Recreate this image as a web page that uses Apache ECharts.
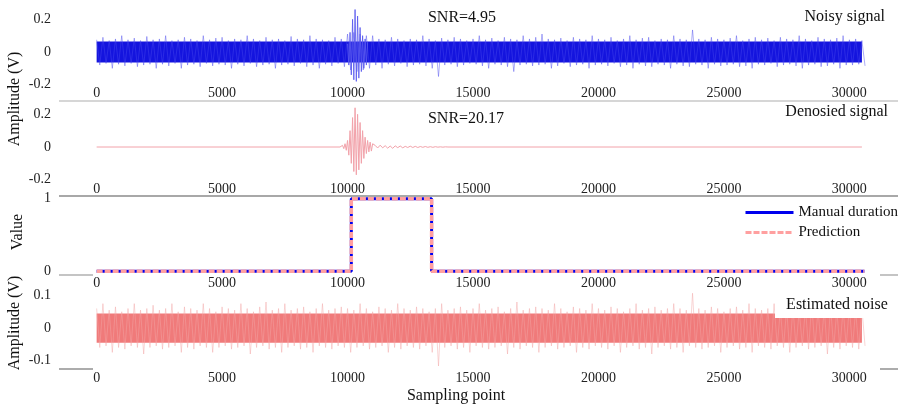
<!DOCTYPE html>
<html lang="en">
<head>
<meta charset="UTF-8"/>
<title>Noisy / denoised signal</title>
<script src="https://cdn.jsdelivr.net/npm/echarts@6/dist/echarts.min.js"></script>
<style>
  html, body { margin: 0; padding: 0; background: #fff; }
  #chart { width: 898px; height: 409px; }
</style>
</head>
<body>
<div id="chart"></div>
<script>
// ---- values ----
const xTicks = [0, 5000, 10000, 15000, 20000, 25000, 30000];
const envStep = 250; // envelope read every 250 samples

// noisy signal: upper / lower peaks per 250 samples
const noisyHi = [
  0.075,0.09,0.07,0.08,0.1,0.075,0.085,0.07,0.095,0.075,
  0.08,0.1,0.07,0.075,0.09,0.08,0.07,0.1,0.075,0.085,
  0.09,0.07,0.08,0.075,0.1,0.08,0.07,0.09,0.075,0.08,
  0.07,0.095,0.08,0.075,0.1,0.08,0.075,0.07,0.09,0.08,
  0.11,0.12,0.11,0.1,
  0.1,0.08,0.075,0.09,0.08,0.07,
  0.08,0.075,0.1,0.08,0.07,0.085,0.075,0.09,0.08,0.07,
  0.08,0.1,0.075,0.085,0.07,0.09,0.08,0.075,0.1,0.08,
  0.09,0.11,0.08,0.075,0.085,0.07,0.09,0.08,0.075,0.1,
  0.08,0.075,0.09,0.07,0.08,0.1,0.075,0.085,0.09,0.07,
  0.08,0.075,0.1,0.08,0.075,0.135,0.08,0.075,0.09,0.08,
  0.075,0.085,0.1,0.07,0.08,0.09,0.075,0.085,0.07,0.09,
  0.08,0.075,0.1,0.08,0.07,0.09,0.08,0.075,0.085,0.1,
  0.075,0.08,0.07
];
const noisyLo = [
  -0.08,-0.07,-0.1,-0.075,-0.085,-0.07,-0.09,-0.08,-0.075,-0.1,
  -0.075,-0.085,-0.07,-0.1,-0.08,-0.075,-0.09,-0.07,-0.085,-0.075,
  -0.08,-0.1,-0.075,-0.085,-0.07,-0.09,-0.08,-0.075,-0.1,-0.08,
  -0.075,-0.085,-0.07,-0.09,-0.08,-0.1,-0.075,-0.085,-0.07,-0.09,
  -0.11,-0.12,-0.11,-0.1,
  -0.08,-0.1,-0.075,-0.085,-0.07,-0.09,
  -0.08,-0.075,-0.085,-0.1,-0.15,-0.08,-0.075,-0.09,-0.08,-0.07,
  -0.075,-0.085,-0.1,-0.075,-0.08,-0.09,-0.12,-0.08,-0.075,-0.085,
  -0.08,-0.075,-0.1,-0.085,-0.07,-0.09,-0.08,-0.075,-0.1,-0.08,
  -0.075,-0.085,-0.07,-0.09,-0.08,-0.1,-0.075,-0.085,-0.09,-0.075,
  -0.08,-0.1,-0.075,-0.085,-0.09,-0.075,-0.08,-0.1,-0.075,-0.085,
  -0.08,-0.075,-0.09,-0.085,-0.1,-0.075,-0.08,-0.07,-0.09,-0.08,
  -0.075,-0.085,-0.1,-0.08,-0.075,-0.09,-0.085,-0.075,-0.1,-0.08,
  -0.08,-0.075,-0.085
];
// dense core of the noisy band
const noisyCoreX  = [0, 30500];
const noisyCoreHi = [0.064, 0.064];
const noisyCoreLo = [-0.064, -0.064];
// event burst in the noisy trace
const burstX = [10000,10050,10100,10150,10200,10250,10300,10350,10400,10450,10500,10550,10600,10650,10700,10750,10800];
const burstY = [0.05,-0.08,0.12,-0.14,0.2,-0.17,0.26,-0.18,0.22,-0.16,0.15,-0.12,0.1,-0.1,0.08,-0.08,0.06];

// denoised signal
const denoisedX = [
  0, 9700, 9800, 9850, 9900, 9950, 10000, 10050, 10100, 10150, 10200, 10250, 10300, 10350,
  10400, 10450, 10500, 10550, 10600, 10650, 10700, 10750, 10800, 10850, 10900, 10950, 11000,
  11100, 11200, 11300, 11400, 11500, 11600, 11700, 11800, 11900, 12000, 12100, 12200, 12300,
  12400, 12500, 12600, 12700, 12800, 12900, 13000, 13100, 13200, 13300, 13400, 13500, 13600,
  13700, 13800, 13900, 14000, 30500
];
const denoisedY = [
  0, 0, 0.01, -0.01, 0.02, -0.02, 0.04, -0.05, 0.1, -0.1, 0.18, -0.15, 0.24, -0.17,
  0.2, -0.14, 0.15, -0.1, 0.1, -0.07, 0.06, -0.04, 0.04, -0.03, 0.03, -0.025, 0.02,
  0.01, -0.006, 0.011, -0.005, 0.008, -0.007, 0.006, -0.008, 0.007, -0.004, 0.006, -0.005,
  0.004, -0.003, 0.005, -0.003, 0.004, -0.003, 0.003, -0.002, 0.003, -0.002, 0.002, -0.002,
  0.002, -0.001, 0.001, -0.001, 0.001, 0, 0
];

// duration (value 0/1)
const durationX   = [0, 10150, 10150, 13350, 13350, 30600];
const manualY     = [0, 0, 1, 1, 0, 0];
const predictionY = [0, 0, 1, 1, 0, 0];

// estimated noise: upper / lower peaks per 250 samples
const noiseHi = [
  0.06,0.075,0.055,0.065,0.05,0.06,0.075,0.055,0.06,0.07,
  0.055,0.06,0.075,0.05,0.065,0.06,0.055,0.075,0.06,0.05,
  0.065,0.06,0.055,0.075,0.06,0.05,0.065,0.08,0.055,0.06,
  0.075,0.055,0.06,0.065,0.05,0.06,0.075,0.055,0.06,0.065,
  0.06,0.055,0.075,0.06,0.05,0.065,0.06,0.055,0.075,0.06,
  0.055,0.065,0.06,0.05,0.06,0.075,0.055,0.06,0.065,0.055,
  0.06,0.075,0.055,0.06,0.065,0.05,0.06,0.08,0.055,0.06,
  0.065,0.06,0.055,0.075,0.06,0.05,0.065,0.06,0.055,0.075,
  0.06,0.055,0.065,0.06,0.05,0.06,0.075,0.055,0.06,0.065,
  0.055,0.06,0.075,0.06,0.055,0.107,0.06,0.055,0.065,0.06,
  0.05,0.06,0.065,0.055,0.075,0.06,0.055,0.06,0.075,0.055,
  0.06,0.065,0.055,0.06,0.075,0.055,0.06,0.065,0.055,0.06,
  0.065,0.055,0.06
];
const noiseLo = [
  -0.06,-0.055,-0.075,-0.06,-0.065,-0.055,-0.06,-0.08,-0.06,-0.055,
  -0.065,-0.06,-0.055,-0.075,-0.06,-0.065,-0.055,-0.06,-0.075,-0.06,
  -0.055,-0.065,-0.06,-0.055,-0.08,-0.06,-0.055,-0.065,-0.06,-0.075,
  -0.06,-0.055,-0.065,-0.06,-0.075,-0.055,-0.06,-0.065,-0.055,-0.06,
  -0.075,-0.06,-0.055,-0.065,-0.06,-0.055,-0.075,-0.06,-0.065,-0.055,
  -0.06,-0.065,-0.055,-0.075,-0.117,-0.06,-0.055,-0.065,-0.06,-0.075,
  -0.055,-0.06,-0.065,-0.06,-0.055,-0.08,-0.06,-0.065,-0.055,-0.06,
  -0.075,-0.06,-0.055,-0.065,-0.06,-0.055,-0.075,-0.06,-0.065,-0.055,
  -0.06,-0.065,-0.055,-0.075,-0.06,-0.055,-0.065,-0.06,-0.08,-0.06,
  -0.055,-0.065,-0.06,-0.075,-0.055,-0.06,-0.065,-0.06,-0.055,-0.075,
  -0.06,-0.055,-0.065,-0.06,-0.075,-0.055,-0.06,-0.065,-0.055,-0.06,
  -0.075,-0.06,-0.055,-0.065,-0.06,-0.055,-0.08,-0.06,-0.065,-0.055,
  -0.06,-0.065,-0.055
];
const noiseCoreX  = [0, 30500];
const noiseCoreHi = [0.045, 0.045];
const noiseCoreLo = [-0.045, -0.045];

// ---- helpers ----
const FONT = "'Liberation Serif', 'Times New Roman', serif";
const pairs = (xs, ys) => xs.map((x, i) => [x, ys[i]]);
function zigzag(hi, lo) {
  const out = [];
  hi.forEach((h, i) => {
    out.push([i * envStep, h]);
    out.push([i * envStep + envStep / 2, lo[i]]);
  });
  return out;
}

const chart = echarts.init(document.getElementById('chart'));

const grids = [
  { left: 59, right: 11, top: 3, height: 98 },
  { left: 59, right: 11, top: 98, height: 98 },
  { left: 59, right: 11, top: 195, height: 80 },
  { left: 59, right: 11, top: 285.75, height: 84.5 }
];
const yRanges = [[-0.3, 0.3], [-0.3, 0.3], [-0.05, 1.05], [-0.13, 0.13]];
const yTicks = [[-0.2, 0, 0.2], [-0.2, 0, 0.2], [0, 1], [-0.1, 0, 0.1]];
const xLabelInside = [true, true, false, false];
const xLabelMargin = [1, 0, 1, 1];

const xAxes = grids.map((g, i) => ({
  type: 'value', gridIndex: i, min: -1500, max: 31500,
  axisLine: { show: false }, axisTick: { show: false }, splitLine: { show: false },
  axisLabel: {
    customValues: xTicks, inside: xLabelInside[i], margin: xLabelMargin[i],
    fontSize: 14, fontFamily: FONT, color: '#222', formatter: v => String(v)
  }
}));
const yAxes = grids.map((g, i) => ({
  type: 'value', gridIndex: i, min: yRanges[i][0], max: yRanges[i][1],
  axisLine: { show: false }, axisTick: { show: false }, splitLine: { show: false },
  axisLabel: {
    customValues: yTicks[i], margin: 8, fontSize: 14, fontFamily: FONT, color: '#222',
    padding: i < 2 ? [0, 0, 9, 0] : 0,
    formatter: v => String(v)
  }
}));

const band = (xi, data, color) => ({
  type: 'line', xAxisIndex: xi, yAxisIndex: xi, data, symbol: 'none', silent: true,
  lineStyle: { width: 0 }, areaStyle: { color, opacity: 1 }
});
const trace = (xi, data, color, width, opacity) => ({
  type: 'line', xAxisIndex: xi, yAxisIndex: xi, data, symbol: 'none', silent: true,
  lineStyle: { color, width, opacity: opacity == null ? 1 : opacity }
});

const sep = (x1, x2, y, color, w) => ({
  type: 'line', z: 50, silent: true,
  shape: { x1, y1: y, x2, y2: y }, style: { stroke: color, lineWidth: w }
});
const txt = (x, y, text, align) => ({
  type: 'text', z: 60, x, y,
  style: { text, font: '16px ' + FONT, fill: '#111', align: align || 'center', verticalAlign: 'middle' }
});
const vtxt = (x, y, text) => ({
  type: 'text', z: 60, x, y, rotation: Math.PI / 2,
  style: { text, font: '16px ' + FONT, fill: '#111', align: 'center', verticalAlign: 'middle' }
});

chart.setOption({
  animation: false,
  backgroundColor: '#fff',
  grid: grids,
  xAxis: xAxes,
  yAxis: yAxes,
  legend: {
    data: ['Manual duration', 'Prediction'],
    orient: 'vertical', left: 739, top: 200, itemWidth: 48, itemHeight: 14, itemGap: 5,
    itemStyle: { opacity: 0 },
    lineStyle: { width: 3 },
    textStyle: { fontSize: 15, fontFamily: FONT, color: '#111' }
  },
  series: [
    // noisy signal
    trace(0, zigzag(noisyHi, noisyLo), '#4848ec', 0.6, 0.75),
    band(0, pairs(noisyCoreX, noisyCoreHi), '#1414de'),
    band(0, pairs(noisyCoreX, noisyCoreLo), '#1414de'),
    trace(0, pairs(burstX, burstY), '#5a5aee', 1, 0.85),
    // denoised
    trace(1, pairs(denoisedX, denoisedY), '#f2a2aa', 1),
    // duration
    { name: 'Manual duration', type: 'line', xAxisIndex: 2, yAxisIndex: 2, symbol: 'none',
      data: pairs(durationX, manualY), lineStyle: { color: '#0000ee', width: 3 }, itemStyle: { color: '#0000ee' } },
    { name: 'Prediction', type: 'line', xAxisIndex: 2, yAxisIndex: 2, symbol: 'none',
      data: pairs(durationX, predictionY), lineStyle: { color: '#ffa0a0', width: 3.5, type: [6, 2] }, itemStyle: { color: '#ffa0a0' } },
    // estimated noise
    trace(3, zigzag(noiseHi, noiseLo), '#f2a6a6', 0.6, 0.8),
    band(3, pairs(noiseCoreX, noiseCoreHi), '#f07a7a'),
    band(3, pairs(noiseCoreX, noiseCoreLo), '#f07a7a')
  ],
  graphic: [
    sep(59, 898, 101, '#c8c8c8', 1.5),
    sep(59, 898, 196, '#a8a8a8', 2),
    sep(59, 93, 275, '#b0b0b0', 1.5),
    sep(880, 898, 275, '#b0b0b0', 1.5),
    sep(59, 93, 369, '#909090', 1.5),
    sep(880, 898, 369, '#909090', 1.5),
    txt(462, 18, 'SNR=4.95'),
    txt(885, 17, 'Noisy signal', 'right'),
    txt(466, 119, 'SNR=20.17'),
    txt(888, 112, 'Denosied signal', 'right'),
    { type: 'rect', z: 55, shape: { x: 775, y: 293, width: 117, height: 25 }, style: { fill: '#fff' } },
    txt(837, 305, 'Estimated noise'),
    txt(456, 396, 'Sampling point'),
    vtxt(15, 99, 'Amplitude (V)'),
    vtxt(18, 232, 'Value'),
    vtxt(15, 323, 'Amplitude (V)')
  ]
});

window.addEventListener('resize', () => chart.resize());
</script>
</body>
</html>
